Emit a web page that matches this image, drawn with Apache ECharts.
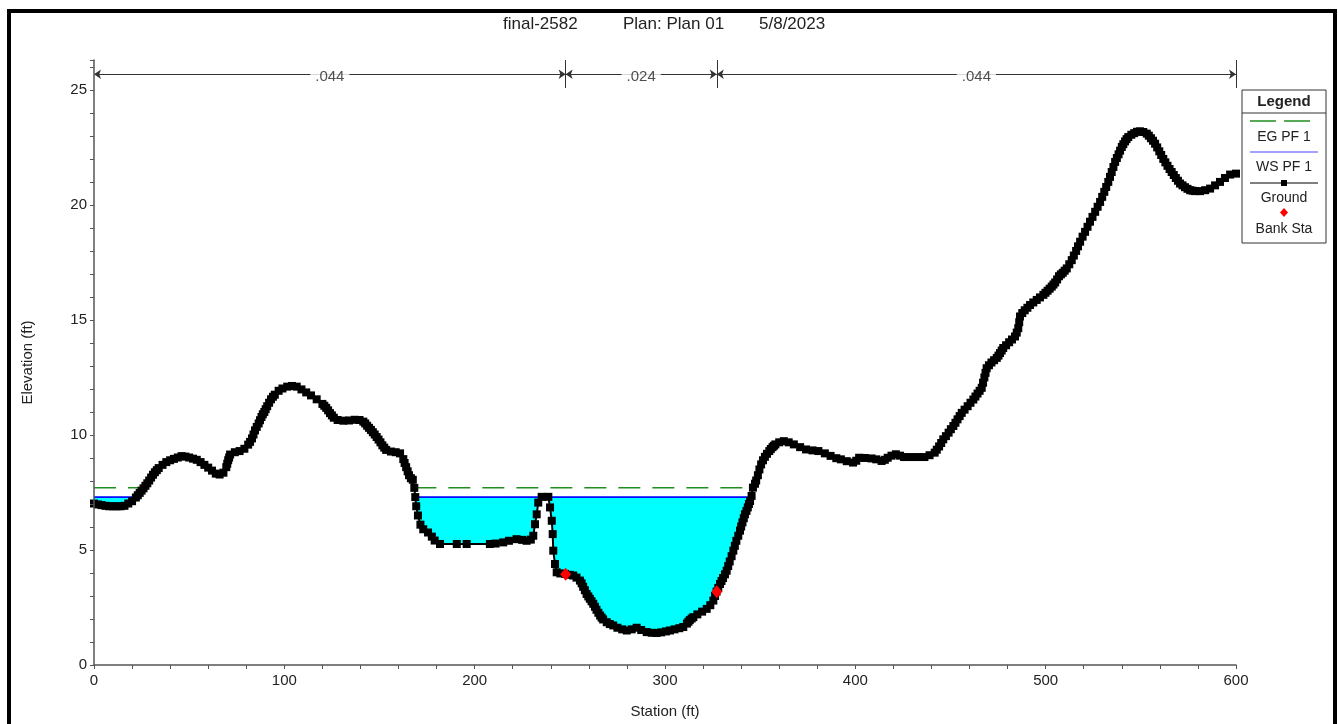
<!DOCTYPE html>
<html>
<head>
<meta charset="utf-8">
<script src="https://cdn.jsdelivr.net/npm/echarts@6/dist/echarts.min.js"></script>
<style>
html,body{margin:0;padding:0;background:#fff;}
#chart{width:1338px;height:724px;}
</style>
</head>
<body>
<div id="chart"></div>
<script>
// ---- Data ----
const titleParts = ['final-2582', 'Plan: Plan 01', '5/8/2023'];
const stations = [0,2,4,6,8,10,12,14,16,18,20,22,24,26,28,30,32,34,36,38,40,42,44,46,48,50,52,54,56,58,60,62,64,66,68,69.5,70.5,71.5,74,76.5,79,81,83,84.6,86.5,88,89.5,91,93,95,97,99,101.5,104,106.5,109,111.5,114,117,120,122,124,126,128,131,134,137,139.5,141.5,143.5,145.5,147.5,149.5,151.5,153.5,156,158.5,160.8,162.5,164,165.5,167.5,168.3,168.8,169.3,170.2,171.5,173,175.5,177.5,179,181.8,190.6,195.8,208,211,215,218,222,225,227.3,229.5,230.8,231.7,232.6,233.4,235.2,238.7,239.6,240.5,241,241.3,242.2,243.1,245,247.5,250,251.8,253.5,255.3,257,258.8,260.5,262.3,264,265.9,267.5,269.4,271,272.8,275,277.5,279.9,282.5,285.1,287.5,290.4,293,295.6,298,300.5,302.6,305,307.5,309.6,311.5,313,314.9,317,319.5,321.9,323.8,325.4,327.1,328.9,330.5,332.4,334,335.9,337.5,339.4,340.7,342,343.5,344.7,345.5,346.2,347.3,348.8,350.5,352.5,354.8,356.5,358,360,362.4,365,367.7,371,374.1,377.5,380.6,384,387,390,392.4,395.5,398.8,400.5,402,405,408.5,411,413.8,415.5,417,419,421.3,423.5,425.6,429,432.5,436.3,439,441.7,444,446.2,449,451.5,453.7,455.9,459,462,464.2,466.4,467.8,469,471.5,474.3,476,477.7,480.8,483.9,485.6,486.5,489,491.8,495.3,498.8,501,503.2,505,507,509,511.1,513.7,516,518.1,520.7,523.3,526,528.6,530.8,532.9,534.7,536.5,538.3,540,541.7,543.4,546.5,549.6,553.1,555.3,557.5,559.7,561.8,564,566.2,568.4,570.6,573.2,575.9,578.5,581.1,583.8,586.4,589,591.6,594.2,596.9,600];
const elevations = [7.02,6.98,6.95,6.92,6.9,6.9,6.9,6.9,6.92,7.02,7.12,7.28,7.48,7.68,7.9,8.15,8.38,8.56,8.7,8.82,8.9,8.96,9.02,9.08,9.06,9.02,8.97,8.92,8.82,8.7,8.58,8.45,8.32,8.28,8.36,8.6,8.9,9.15,9.25,9.3,9.4,9.58,9.85,10.2,10.5,10.78,11.0,11.25,11.55,11.75,11.92,12.02,12.1,12.13,12.1,11.98,11.85,11.72,11.55,11.35,11.18,10.95,10.75,10.65,10.62,10.63,10.66,10.65,10.58,10.4,10.22,10.02,9.8,9.55,9.35,9.28,9.25,9.2,8.95,8.6,8.25,8.05,7.7,7.3,6.9,6.5,6.1,5.9,5.76,5.58,5.41,5.26,5.26,5.26,5.26,5.28,5.33,5.4,5.47,5.44,5.4,5.45,5.62,6.12,6.55,7.06,7.31,7.31,6.85,6.27,5.69,4.97,4.39,4.03,3.98,3.96,3.92,3.89,3.8,3.67,3.4,3.09,2.88,2.66,2.4,2.15,1.98,1.86,1.78,1.72,1.62,1.55,1.5,1.55,1.62,1.52,1.43,1.4,1.39,1.42,1.46,1.5,1.55,1.6,1.65,1.8,1.95,2.08,2.2,2.32,2.44,2.6,2.8,3.19,3.52,3.78,4.1,4.5,4.97,5.4,5.84,6.2,6.55,6.85,7.13,7.35,7.71,7.88,8.25,8.72,9.05,9.3,9.47,9.59,9.68,9.73,9.68,9.59,9.47,9.37,9.33,9.3,9.2,9.09,8.99,8.94,8.86,8.8,8.88,9.01,9.0,8.98,8.94,8.87,8.92,9.01,9.1,9.16,9.1,9.04,9.04,9.04,9.04,9.12,9.23,9.5,9.81,10.1,10.39,10.68,10.96,11.25,11.54,11.8,12.05,12.5,12.9,13.15,13.35,13.56,13.78,14.03,14.28,14.64,15.15,15.42,15.65,15.87,16.09,16.27,16.45,16.63,16.9,17.05,17.24,17.6,18.0,18.4,18.83,19.27,19.7,20.13,20.57,21.0,21.43,21.87,22.2,22.52,22.76,22.95,23.12,23.2,23.1,22.9,22.66,22.33,22.0,21.7,21.43,21.17,20.93,20.77,20.64,20.6,20.6,20.64,20.71,20.85,21.0,21.17,21.32,21.36];
// extra surveyed points read on the steep stretches of the ground line
const extraStations = [23,25,27,29,31,33,70,71,82,83.8,85.5,87.2,88.7,90.2,92,94,121,123,125,142.5,144.5,146.5,148.5,150.5,152.5,163.2,164.8,166.5,256.2,257.9,259.7,261.4,263.2,265,266.7,312.3,314,326.3,328,329.7,331.5,333.2,335,336.7,338.5,340,341.4,342.8,344.1,347.9,349.6,351.5,353.6,355.6,357.2,442.8,445.1,447.6,450.2,452.6,454.8,457.4,460.5,463.1,465.3,467.1,468.4,470.2,472.9,475.2,476.9,479.2,482.3,484.8,486.1,487.7,490.4,493.5,497,499.9,502.1,504.1,506,508,510,512.4,514.8,517,519.4,522,524.6,527.3,529.7,531.8,533.8,535.6,537.4,539.1,540.8,542.5,545,548,551.3,554.2,556.4,558.6,560.7,562.9,565.1,567.3,569.5,571.9,574.5,577.2];
const extraElevations = [7.38,7.58,7.79,8.02,8.27,8.47,8.75,9.02,9.7,10.02,10.35,10.64,10.9,11.12,11.4,11.66,11.27,11.07,10.85,10.5,10.31,10.12,9.91,9.68,9.45,8.78,8.42,8.12,3.55,3.25,2.98,2.77,2.53,2.27,2.06,1.88,2.02,3.0,3.35,3.65,3.94,4.3,4.73,5.18,5.62,6.02,6.38,6.7,7.0,8.02,8.5,8.9,9.18,9.39,9.53,9.36,9.65,9.95,10.25,10.53,10.82,11.1,11.4,11.67,11.92,12.27,12.7,13.03,13.25,13.45,13.67,13.9,14.15,14.45,14.9,15.3,15.53,15.76,15.98,16.18,16.36,16.54,16.76,16.98,17.14,17.42,17.8,18.2,18.62,19.05,19.48,19.92,20.35,20.78,21.22,21.65,22.04,22.36,22.64,22.86,23.05,23.18,23.17,23.01,22.79,22.5,22.17,21.85,21.56,21.3,21.05,20.85,20.7,20.62];
const wsElev = 7.3;
const egElev = 7.7;
const wsExtents = [[0, 22], [168.8, 345.3]];
const egExtents = [[0, 26], [168.3, 346.2]];
const bankStations = [247.8, 327.2];
const bankElevations = [3.95, 3.18];
const nBreaks = [0, 247.8, 327.2, 600];
const nValues = ['.044', '.024', '.044'];
const nLineElev = 25.68;
const nTickTop = 26.3;
const nTickBottom = 25.08;
const xTickLabels = [0, 100, 200, 300, 400, 500, 600];
const yTickLabels = [0, 5, 10, 15, 20, 25];

// ---- Build ----
const FONT = "'Liberation Sans', Arial, sans-serif";
const ground = stations.map((s, i) => [s, elevations[i]])
  .concat(extraStations.map((s, i) => [s, extraElevations[i]]))
  .sort((a, b) => a[0] - b[0]);
const banks = bankStations.map((s, i) => [s, bankElevations[i]]);

const series = [];
wsExtents.forEach((e) => {
  series.push({
    name: 'WS fill', type: 'line', z: 2, silent: true,
    data: [[e[0], wsElev], [e[1], wsElev]],
    showSymbol: false,
    lineStyle: { color: '#0000ff', width: 1.2 },
    areaStyle: { color: '#00ffff', opacity: 1, origin: 'start' }
  });
});
series.push({
  name: 'GroundFill', type: 'line', z: 3, silent: true,
  data: ground, showSymbol: false,
  lineStyle: { width: 0 },
  areaStyle: { color: '#ffffff', opacity: 1, origin: 'start' }
});
wsExtents.forEach((e) => {
  series.push({
    name: 'WS PF 1', type: 'line', z: 4, silent: true,
    data: [[e[0], wsElev], [e[1], wsElev]],
    showSymbol: false,
    lineStyle: { color: '#0000ff', width: 1.2 }
  });
});
egExtents.forEach((e) => {
  series.push({
    name: 'EG PF 1', type: 'line', z: 4, silent: true,
    data: [[e[0], egElev], [e[1], egElev]],
    showSymbol: false,
    lineStyle: { color: '#1f8f1f', width: 1.5, type: [22, 12] }
  });
});
series.push({
  name: 'Ground', type: 'line', z: 5, silent: true,
  data: ground,
  showAllSymbol: true,
  symbol: 'rect', symbolSize: 8,
  itemStyle: { color: '#000' },
  lineStyle: { color: '#000', width: 2 }
});
series.push({
  name: 'Bank Sta', type: 'scatter', z: 8, zlevel: 0, silent: true,
  data: banks, symbol: 'diamond', symbolSize: [11, 13],
  itemStyle: { color: '#ff0000', opacity: 1 }
});
// Manning's n dimension lines
const nSegs = [];
for (let i = 0; i < nValues.length; i++) {
  nSegs.push({ coords: [[nBreaks[i], nLineElev], [nBreaks[i + 1], nLineElev]] });
}
series.push({
  name: 'nLines', type: 'lines', coordinateSystem: 'cartesian2d', z: 6, silent: true,
  symbol: ['arrow', 'arrow'], symbolSize: 7,
  lineStyle: { color: '#333', width: 1, opacity: 1 },
  data: nSegs
});
const nTicks = nBreaks.slice(1).map(b => ({ coords: [[b, nTickTop], [b, nTickBottom]] }));
series.push({
  name: 'nTicks', type: 'lines', coordinateSystem: 'cartesian2d', z: 6, silent: true,
  symbol: ['none', 'none'],
  lineStyle: { color: '#333', width: 1, opacity: 1 },
  data: nTicks
});
series.push({
  name: 'nLabels', type: 'scatter', z: 7, silent: true,
  symbolSize: 0,
  data: nValues.map((v, i) => ({ value: [(nBreaks[i] + nBreaks[i + 1]) / 2, nLineElev], label: { formatter: v } })),
  label: {
    show: true, position: 'inside', offset: [0, 3], color: '#222', fontFamily: FONT, fontSize: 15,
    backgroundColor: '#fff', padding: [0, 5]
  }
});

const chart = echarts.init(document.getElementById('chart'), null, { renderer: 'canvas' });

// legend box drawn as graphic (positions are layout, not data)
const LX = 1242, LY = 90, LW = 84, LH = 153, LC = LX + LW / 2;
const legendGraphics = [
  { type: 'rect', shape: { x: LX, y: LY, width: LW, height: LH }, style: { fill: '#fff', stroke: '#333', lineWidth: 1 }, z: 100 },
  { type: 'text', x: LC, y: LY + 12, style: { text: 'Legend', font: 'bold 15px ' + FONT, fill: '#222', textAlign: 'center', textVerticalAlign: 'middle' }, z: 101 },
  { type: 'line', shape: { x1: LX, y1: LY + 23, x2: LX + LW, y2: LY + 23 }, style: { stroke: '#333', lineWidth: 1 }, z: 101 },
  { type: 'line', shape: { x1: LX + 8, y1: LY + 31, x2: LX + 70, y2: LY + 31 }, style: { stroke: '#1f8f1f', lineWidth: 1.5, lineDash: [26, 8] }, z: 101 },
  { type: 'text', x: LC, y: LY + 47, style: { text: 'EG PF 1', font: '14px ' + FONT, fill: '#222', textAlign: 'center', textVerticalAlign: 'middle' }, z: 101 },
  { type: 'line', shape: { x1: LX + 8, y1: LY + 62, x2: LX + 76, y2: LY + 62 }, style: { stroke: '#4444ff', lineWidth: 1.2 }, z: 101 },
  { type: 'text', x: LC, y: LY + 77, style: { text: 'WS PF 1', font: '14px ' + FONT, fill: '#222', textAlign: 'center', textVerticalAlign: 'middle' }, z: 101 },
  { type: 'line', shape: { x1: LX + 8, y1: LY + 93, x2: LX + 76, y2: LY + 93 }, style: { stroke: '#000', lineWidth: 1 }, z: 101 },
  { type: 'rect', shape: { x: LC - 3, y: LY + 90, width: 6, height: 6 }, style: { fill: '#000' }, z: 102 },
  { type: 'text', x: LC, y: LY + 108, style: { text: 'Ground', font: '14px ' + FONT, fill: '#222', textAlign: 'center', textVerticalAlign: 'middle' }, z: 101 },
  { type: 'polygon', shape: { points: [[LC, LY + 118], [LC + 4, LY + 122.5], [LC, LY + 127], [LC - 4, LY + 122.5]] }, style: { fill: '#ff0000' }, z: 101 },
  { type: 'text', x: LC, y: LY + 139, style: { text: 'Bank Sta', font: '14px ' + FONT, fill: '#222', textAlign: 'center', textVerticalAlign: 'middle' }, z: 101 },
  // outer frame
  { type: 'rect', shape: { x: 9, y: 11, width: 1326, height: 800 }, style: { fill: 'none', stroke: '#000', lineWidth: 4 }, z: 110 }
];

const titleLefts = [503, 623, 759];
const option = {
  animation: false,
  backgroundColor: '#fff',
  title: titleParts.map((t, i) => ({
    text: t, left: titleLefts[i], top: 16, padding: 0,
    textStyle: { fontFamily: FONT, fontSize: 17, fontWeight: 'normal', color: '#222' }
  })),
  grid: { left: 94, right: 102, top: 60, bottom: 56, containLabel: false },
  xAxis: {
    type: 'value', min: 0, max: 600, interval: 20, z: 10,
    name: 'Station (ft)', nameLocation: 'middle', nameGap: 39,
    nameTextStyle: { fontFamily: FONT, fontSize: 15, color: '#222' },
    axisLine: { show: true, onZero: false, lineStyle: { color: '#555', width: 1.5 } },
    axisTick: { show: true, length: 4, lineStyle: { color: '#555' } },
    axisLabel: {
      margin: 8, fontFamily: FONT, fontSize: 15, color: '#222',
      formatter: v => (xTickLabels.indexOf(v) >= 0 ? String(v) : '')
    },
    splitLine: { show: false }
  },
  yAxis: {
    type: 'value', min: 0, max: 26.3, interval: 1, z: 10,
    name: 'Elevation (ft)', nameLocation: 'middle', nameGap: 59, nameRotate: 90,
    nameTextStyle: { fontFamily: FONT, fontSize: 15, color: '#222' },
    axisLine: { show: true, onZero: false, lineStyle: { color: '#555', width: 1.5 } },
    axisTick: { show: true, length: 4, lineStyle: { color: '#555' } },
    axisLabel: {
      margin: 7, fontFamily: FONT, fontSize: 15, color: '#222',
      formatter: v => (yTickLabels.indexOf(v) >= 0 ? String(v) : '')
    },
    splitLine: { show: false }
  },
  series: series,
  graphic: legendGraphics
};
chart.setOption(option);
</script>
</body>
</html>
